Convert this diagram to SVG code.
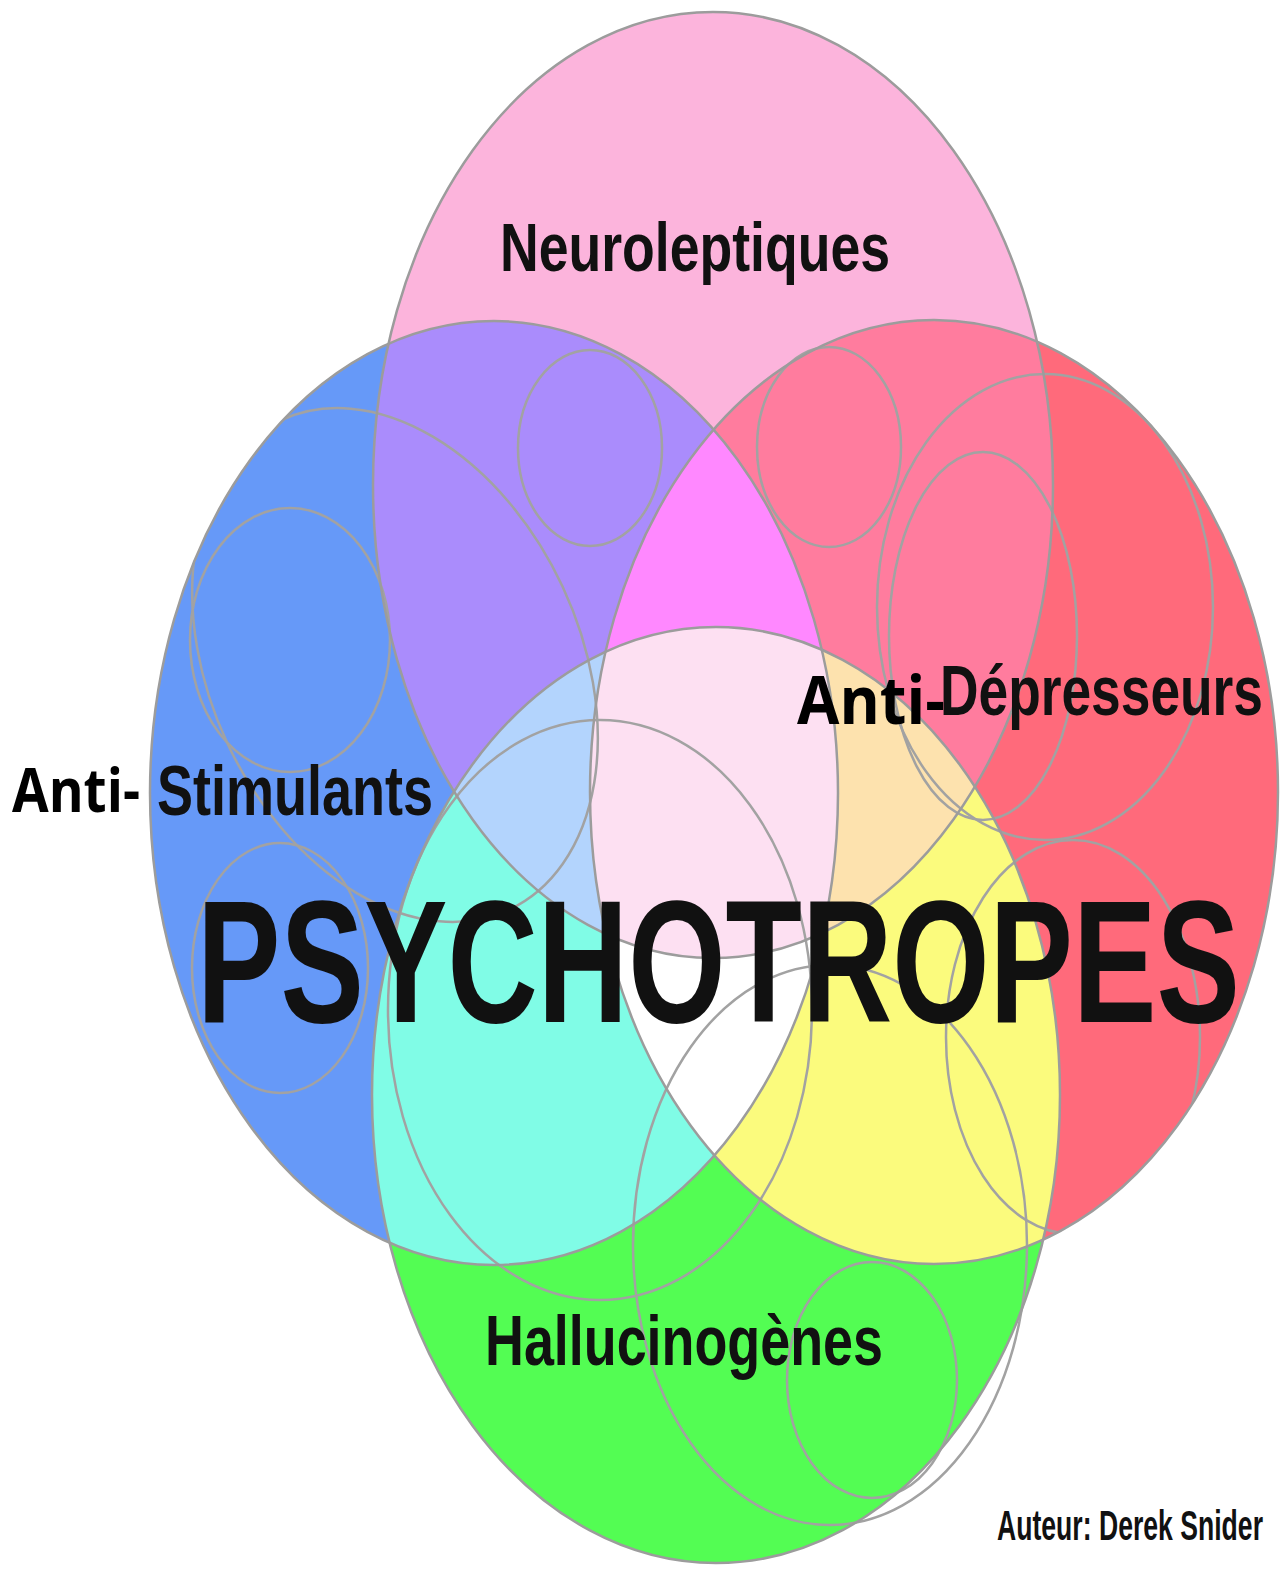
<svg xmlns="http://www.w3.org/2000/svg" xmlns:xlink="http://www.w3.org/1999/xlink" width="1286" height="1569" viewBox="0 0 1286 1569">
<defs>
<style>
.lbl{font-family:"Liberation Sans",Arial,sans-serif;font-weight:bold;fill:#111;}
.anti{font-family:"Open Sans","Noto Sans",sans-serif;font-weight:bold;fill:#000;}
.edge{fill:none;stroke:#9c9c9c;stroke-width:2.5;}
.deco{fill:none;stroke:#a2a2a2;stroke-width:2.5;}
</style>
<ellipse id="eP" cx="713" cy="485" rx="340" ry="473"/>
<ellipse id="eB" cx="494" cy="793" rx="344" ry="472"/>
<ellipse id="eR" cx="934" cy="792" rx="344" ry="472"/>
<ellipse id="eG" cx="716" cy="1095" rx="344" ry="468"/>
<clipPath id="cP"><ellipse cx="713" cy="485" rx="340" ry="473"/></clipPath>
<clipPath id="cB"><ellipse cx="494" cy="793" rx="344" ry="472"/></clipPath>
<clipPath id="cR"><ellipse cx="934" cy="792" rx="344" ry="472"/></clipPath>
<clipPath id="cG"><ellipse cx="716" cy="1095" rx="344" ry="468"/></clipPath>
</defs>
<rect width="1286" height="1569" fill="#ffffff"/>

<g id="regions">
<use href="#eP" fill="#fcb4dc"/>
<use href="#eB" fill="#6699f8"/>
<use href="#eR" fill="#ff6a7b"/>
<use href="#eG" fill="#53fd53"/>
<g clip-path="url(#cP)"><use href="#eB" fill="#aa8cfc"/><use href="#eR" fill="#ff7c9e"/></g>
<g clip-path="url(#cG)"><use href="#eB" fill="#80fce6"/><use href="#eR" fill="#fbfb7d"/></g>
<g clip-path="url(#cP)"><g clip-path="url(#cB)"><use href="#eR" fill="#ff88ff"/><use href="#eG" fill="#b3d4fd"/></g></g>
<g clip-path="url(#cP)"><g clip-path="url(#cR)"><use href="#eG" fill="#fde2ae"/></g></g>
<g clip-path="url(#cB)"><g clip-path="url(#cR)"><use href="#eG" fill="#ffffff"/></g></g>
<g clip-path="url(#cP)"><g clip-path="url(#cB)"><g clip-path="url(#cR)"><use href="#eG" fill="#fde0f2"/></g></g></g>
</g>

<g id="connectors">
<ellipse class="deco" cx="590" cy="448" rx="72" ry="98"/>
<ellipse class="deco" cx="829" cy="447" rx="72" ry="100"/>
<ellipse class="deco" cx="290" cy="640" rx="100" ry="132"/>
<ellipse class="deco" cx="280" cy="968" rx="88" ry="125"/>
<g clip-path="url(#cB)"><ellipse class="deco" cx="395" cy="665" rx="185" ry="270" transform="rotate(-25 395 665)"/></g>
<ellipse class="deco" cx="1045" cy="607" rx="168" ry="233"/>
<ellipse class="deco" cx="983" cy="636" rx="94" ry="184"/>
<g clip-path="url(#cR)"><ellipse class="deco" cx="1073" cy="1037" rx="127" ry="197"/></g>
<ellipse class="deco" cx="600" cy="1010" rx="212" ry="290"/>
<ellipse class="deco" cx="830" cy="1245" rx="197" ry="280"/>
<ellipse class="deco" cx="872" cy="1380" rx="85" ry="118"/>
</g>

<g id="outlines">
<use href="#eP" class="edge"/>
<use href="#eB" class="edge"/>
<use href="#eR" class="edge"/>
<use href="#eG" class="edge"/>
</g>

<g id="node-neuroleptiques"><text class="lbl" x="500" y="271" font-size="68" textLength="390" lengthAdjust="spacingAndGlyphs">Neuroleptiques</text></g>
<g id="node-stimulants">
<text class="anti" x="12" y="812" font-size="60" textLength="128" lengthAdjust="spacingAndGlyphs">Anti-</text>
<text class="lbl" x="157" y="815" font-size="71" textLength="276" lengthAdjust="spacingAndGlyphs">Stimulants</text>
</g>
<g id="node-depresseurs">
<text class="lbl" x="940" y="715" font-size="71" textLength="323" lengthAdjust="spacingAndGlyphs">Dépresseurs</text>
<text class="anti" x="797" y="724" font-size="66" textLength="148" lengthAdjust="spacingAndGlyphs">Anti-</text>
</g>
<g id="node-hallucinogenes"><text class="lbl" x="485" y="1365" font-size="71" textLength="398" lengthAdjust="spacingAndGlyphs">Hallucinogènes</text></g>
<g id="node-psychotropes"><text class="lbl" x="197" y="1022" font-size="175" textLength="1043" lengthAdjust="spacingAndGlyphs" fill="#000">PSYCHOTROPES</text></g>
<g id="node-author"><text class="lbl" x="997" y="1540" font-size="42" textLength="266" lengthAdjust="spacingAndGlyphs" fill="#222">Auteur: Derek Snider</text></g>
</svg>
